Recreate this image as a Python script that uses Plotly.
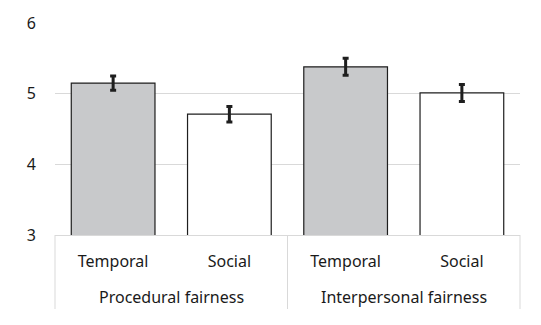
import plotly.graph_objects as go

groups = ["Procedural fairness", "Interpersonal fairness"]
conditions = ["Temporal", "Social", "Temporal", "Social"]
means = [5.15, 4.71, 5.38, 5.01]
errors = [0.10, 0.11, 0.12, 0.12]
colors = ["#c8c9cb", "#ffffff", "#c8c9cb", "#ffffff"]
y_ticks = [3, 4, 5, 6]

positions = list(range(len(conditions)))
font = "Noto Sans, Open Sans, sans-serif"
PLOT_H = 325 - 23 - 90
n = len(conditions)

fig = go.Figure()
fig.add_trace(go.Bar(
    x=positions,
    y=means,
    marker=dict(color=colors, line=dict(color="#1e1e1e", width=1.2)),
    error_y=dict(type="data", array=errors, visible=True, color="#1e1e1e", thickness=3, width=3),
))

# group labels
for gi, g in enumerate(groups):
    fig.add_annotation(
        x=(2 * gi + 1) / n, xref="paper", y=-(297 - 235) / PLOT_H, yref="paper",
        text=g, showarrow=False, xanchor="center", yanchor="middle",
        font=dict(family=font, size=16, color="#1a1a1a"),
    )
# group dividers
for d in [0, 0.5, 1]:
    fig.add_shape(
        type="line", xref="paper", yref="paper",
        x0=d, x1=d, y0=0, y1=-(309 - 235) / PLOT_H,
        line=dict(color="#d9d9d9", width=1),
    )

fig.update_layout(
    width=541, height=325,
    margin=dict(l=55, r=21, t=23, b=90),
    paper_bgcolor="white", plot_bgcolor="white",
    bargap=0.28,
    showlegend=False,
    font=dict(family=font, size=16, color="#1a1a1a"),
)
fig.update_yaxes(
    range=[3, 6], tickvals=y_ticks, showgrid=True, gridcolor="#d9d9d9", gridwidth=1,
    zeroline=False, showline=False, ticklabelstandoff=18,
    tickfont=dict(size=16, color="#1a1a1a"),
)
fig.update_xaxes(
    range=[-0.5, n - 0.5], tickvals=positions, ticktext=conditions,
    showgrid=False, zeroline=False,
    showline=True, linecolor="#d9d9d9", linewidth=1,
    ticks="", ticklabelstandoff=12,
    tickfont=dict(size=16, color="#1a1a1a"),
)

fig.write_html("out.html")
